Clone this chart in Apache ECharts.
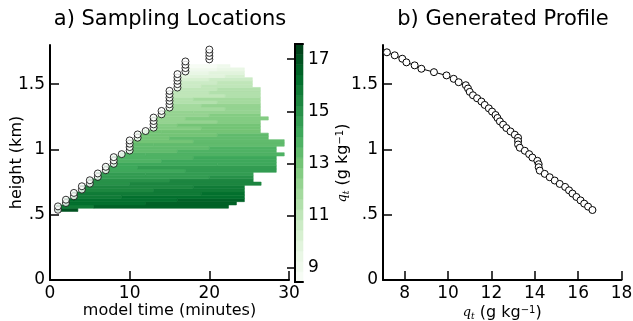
<!DOCTYPE html>
<html><head><meta charset="utf-8">
<script src="https://cdn.jsdelivr.net/npm/echarts@6/dist/echarts.min.js"></script>
<style>html,body{margin:0;padding:0;background:#fff}#c{width:633px;height:321px}</style>
</head><body><div id="c"></div>
<script>
const FONT = 'DejaVu Sans';

// ---- panel a: field rows (time-height), height of each row = 0.025 km
const rowBottom = [0.525,0.55,0.575,0.6,0.625,0.65,0.675,0.7,0.725,0.75,0.775,0.8,0.825,0.85,0.875,0.9,0.925,0.95,0.975,1.0,1.025,1.05,1.075,1.1,1.125,1.15,1.175,1.2,1.225,1.25,1.275,1.3,1.325,1.35,1.375,1.4,1.425,1.45,1.475,1.5,1.525,1.55,1.575,1.6,1.625];
const rowStart  = [0.8,0.8,1.8,1.8,2.8,2.8,3.8,3.8,4.8,4.8,5.8,5.8,6.8,6.8,7.8,7.8,7.8,8.8,9.8,9.8,9.8,9.8,10.8,10.8,11.8,12.8,12.8,12.8,12.8,13.8,13.8,14.8,14.8,14.8,14.8,14.8,14.8,15.8,15.8,15.8,15.8,15.8,16.8,16.8,16.8];
const rowBreak  = [3.5,5.5,12,16,9,19,13,18,10,15,20,12,17,11,21,14,18,12,16,20,13,18,15,21,14,19,16,21,17,20,18,22,19,21,18,22,20,21,19,21,20,22,20,21,21];
const rowEnd    = [3.5,22.4,23.4,24.4,24.4,24.4,24.4,24.4,26.5,25.5,25.5,25.5,28.4,28.4,28.4,28.4,28.4,29.4,28.4,28.4,29.4,29.4,27.4,27.4,26.4,26.4,26.4,26.4,27.4,26.4,26.4,26.4,26.4,26.4,26.4,26.4,26.4,26.4,25.4,25.4,25.4,24.4,24.4,24.4,22.6];
const rowLeftValue  = [16.9,15.9,16.3,16.1,15.9,15.75,15.55,15.4,15.15,14.9,14.7,14.45,14.25,14.15,14.05,13.95,13.85,13.7,13.55,13.35,13.25,13.2,13.15,13.05,12.9,12.7,12.55,12.4,12.3,12.2,12.05,11.9,11.7,11.55,11.35,11.15,11.0,10.9,10.8,10.5,10.25,9.95,9.4,8.9,8.5];
const rowRightValue = [16.9,16.7,16.6,16.4,16.2,16.05,15.9,15.7,15.45,15.25,15.0,14.8,14.55,14.45,14.35,14.25,14.15,14.0,13.85,13.65,13.55,13.5,13.45,13.35,13.2,13.05,12.9,12.75,12.65,12.55,12.4,12.25,12.05,11.9,11.75,11.55,11.4,11.3,11.2,10.9,10.65,10.35,9.8,9.3,8.9];
const rowHeight = 0.025;

// ---- panel a: sampling locations
const sampleTime   = [1,1,2,2,3,3,4,4,5,5,6,6,7,7,8,8,8,9,10,10,10,10,11,11,12,13,13,13,13,14,14,15,15,15,15,15,15,16,16,16,16,16,17,17,17,17,20,20,20,20];
const sampleHeight = [0.538,0.564,0.590,0.615,0.641,0.667,0.692,0.718,0.738,0.764,0.790,0.816,0.841,0.867,0.890,0.915,0.941,0.964,0.992,1.018,1.044,1.069,1.090,1.115,1.141,1.167,1.192,1.218,1.244,1.269,1.295,1.321,1.346,1.372,1.397,1.423,1.449,1.474,1.500,1.526,1.551,1.577,1.597,1.623,1.649,1.674,1.690,1.715,1.740,1.765];

// ---- panel b: generated profile
const profileQ = [7.18,7.54,7.89,8.08,8.46,8.77,9.35,9.93,10.26,10.49,10.82,10.92,11.00,11.15,11.34,11.54,11.69,11.88,12.03,12.19,12.28,12.39,12.54,12.69,12.88,13.08,13.23,13.23,13.23,13.31,13.54,13.74,13.89,14.12,14.18,14.18,14.23,14.46,14.69,14.92,15.15,15.40,15.58,15.74,15.92,16.11,16.28,16.46,16.66];
const profileZ = [1.744,1.721,1.695,1.667,1.644,1.618,1.592,1.567,1.541,1.515,1.492,1.467,1.441,1.415,1.392,1.367,1.341,1.315,1.290,1.264,1.241,1.215,1.190,1.164,1.138,1.113,1.090,1.064,1.038,1.013,0.990,0.964,0.938,0.913,0.887,0.864,0.838,0.813,0.787,0.762,0.736,0.713,0.687,0.662,0.636,0.610,0.585,0.562,0.536];

// ---- ticks / colour scale
const heightTicks = [0, 0.5, 1, 1.5];
const timeTicks = [0, 10, 20, 30];
const qTicks = [8, 10, 12, 14, 16, 18];
const cbTicks = [9, 11, 13, 15, 17];
const cbMin = 8.45, cbMax = 17.58, cbLevels = 23;
const greens = ['#f7fcf5','#e5f5e0','#c7e9c0','#a1d99b','#74c476','#41ab5d','#238b45','#006d2c','#00441b'];

// build field segments [t0, t1, z0, z1, value]
const fieldData = [];
for (let k = 0; k < rowBottom.length; k++) {
  const z0 = rowBottom[k], z1 = z0 + rowHeight;
  const b = rowBreak[k];
  if (b > rowStart[k] && b < rowEnd[k]) {
    fieldData.push([rowStart[k], b, z0, z1, rowLeftValue[k]]);
    fieldData.push([b, rowEnd[k], z0, z1, rowRightValue[k]]);
  } else {
    fieldData.push([rowStart[k], rowEnd[k], z0, z1, rowLeftValue[k]]);
  }
}
const sampleData = sampleTime.map((t, i) => [t, sampleHeight[i]]);
const profileData = profileQ.map((q, i) => [q, profileZ[i]]);
const cbData = [];
const cbStep = (cbMax - cbMin) / cbLevels;
for (let i = 0; i < cbLevels; i++) {
  const lo = cbMin + i * cbStep, hi = lo + cbStep;
  cbData.push([0, 1, lo, hi, (lo + hi) / 2]);
}

function rectItem(params, api) {
  const p0 = api.coord([api.value(0), api.value(3)]);
  const p1 = api.coord([api.value(1), api.value(2)]);
  const c = api.visual('color');
  return {
    type: 'rect',
    shape: { x: p0[0], y: p0[1], width: p1[0] - p0[0], height: p1[1] - p0[1] },
    style: { fill: c, stroke: c, lineWidth: 0.6 }
  };
}

const axisLine = { show: true, lineStyle: { color: '#000', width: 2 } };
const axisTick = { show: true, inside: true, length: 9, lineStyle: { color: '#000', width: 1.5 } };
const lbl = { color: '#000', fontSize: 17, fontFamily: FONT };
const nameStyle = { color: '#000', fontSize: 16, fontFamily: FONT };
const qName = '{i|q}{s|t} (g kg{p|\u22121})';
const qRich = {
  i: { fontFamily: 'DejaVu Serif', fontStyle: 'italic', fontSize: 13, color: '#000' },
  s: { fontFamily: 'DejaVu Serif', fontStyle: 'italic', fontSize: 9, color: '#000', verticalAlign: 'bottom' },
  p: { fontFamily: FONT, fontSize: 10, color: '#000', verticalAlign: 'top' }
};
const fmtH = v => String(v).replace(/^0\./, '.');

const chart = echarts.init(document.getElementById('c'), null, { renderer: 'canvas' });
chart.setOption({
  animation: false,
  backgroundColor: '#fff',
  title: [
    { text: 'a) Sampling Locations', left: 165, top: 4, textAlign: 'center',
      textStyle: { fontFamily: FONT, fontSize: 21, fontWeight: 'normal', color: '#000' } },
    { text: 'b) Generated Profile', left: 498, top: 4, textAlign: 'center',
      textStyle: { fontFamily: FONT, fontSize: 21, fontWeight: 'normal', color: '#000' } }
  ],
  grid: [
    { left: 50, top: 45, width: 239, height: 235, outerBoundsMode: 'none', containLabel: false },
    { left: 295, top: 44, width: 8, height: 238, outerBoundsMode: 'none', containLabel: false },
    { left: 383, top: 45, width: 238.5, height: 235, outerBoundsMode: 'none', containLabel: false }
  ],
  visualMap: {
    type: 'piecewise', show: false, min: cbMin, max: cbMax, splitNumber: cbLevels,
    dimension: 4, seriesIndex: [0, 2], inRange: { color: greens }
  },
  xAxis: [
    { gridIndex: 0, type: 'value', min: 0, max: 30, interval: 10, axisLine, axisTick,
      axisLabel: Object.assign({ margin: 5, customValues: timeTicks }, lbl), splitLine: { show: false },
      name: 'model time (minutes)', nameLocation: 'middle', nameGap: 23, nameMoveOverlap: false,
      nameTextStyle: nameStyle },
    { gridIndex: 1, type: 'value', min: 0, max: 1, position: 'bottom', z: 10,
      axisLine, axisTick: { show: false }, axisLabel: { show: false }, splitLine: { show: false } },
    { gridIndex: 1, type: 'value', min: 0, max: 1, position: 'top', z: 10,
      axisLine, axisTick: { show: false }, axisLabel: { show: false }, splitLine: { show: false } },
    { gridIndex: 2, type: 'value', min: 7, max: 18, axisLine,
      axisTick: Object.assign({ customValues: qTicks }, axisTick),
      axisLabel: Object.assign({ margin: 5, customValues: qTicks }, lbl), splitLine: { show: false },
      name: qName, nameLocation: 'middle', nameGap: 25, nameMoveOverlap: false,
      nameTextStyle: Object.assign({ rich: qRich }, nameStyle) }
  ],
  yAxis: [
    { gridIndex: 0, type: 'value', min: 0, max: 1.8, axisLine,
      axisTick: Object.assign({ customValues: heightTicks }, axisTick),
      axisLabel: Object.assign({ margin: 5, customValues: heightTicks, formatter: fmtH }, lbl),
      splitLine: { show: false },
      name: 'height (km)', nameLocation: 'middle', nameGap: 25, nameMoveOverlap: false,
      nameTextStyle: nameStyle },
    { gridIndex: 1, type: 'value', min: cbMin, max: cbMax, position: 'left', z: 10,
      axisLine, axisTick: { show: false }, axisLabel: { show: false }, splitLine: { show: false } },
    { gridIndex: 1, type: 'value', min: cbMin, max: cbMax, position: 'right', z: 10,
      axisLine, axisTick: Object.assign({ customValues: cbTicks }, axisTick, { length: 8 }),
      axisLabel: Object.assign({ margin: 5, customValues: cbTicks }, lbl), splitLine: { show: false },
      name: qName, nameLocation: 'middle', nameGap: 32, nameRotate: 90, nameMoveOverlap: false,
      nameTextStyle: Object.assign({ rich: qRich }, nameStyle) },
    { gridIndex: 2, type: 'value', min: 0, max: 1.8, axisLine,
      axisTick: Object.assign({ customValues: heightTicks }, axisTick),
      axisLabel: Object.assign({ margin: 5, customValues: heightTicks, formatter: fmtH }, lbl),
      splitLine: { show: false } }
  ],
  series: [
    { type: 'custom', xAxisIndex: 0, yAxisIndex: 0, data: fieldData, renderItem: rectItem,
      encode: { x: [0, 1], y: [2, 3] }, silent: true, z: 1 },
    { type: 'scatter', xAxisIndex: 0, yAxisIndex: 0, data: sampleData, symbol: 'circle', symbolSize: 7,
      itemStyle: { color: '#fff', borderColor: '#000', borderWidth: 1 }, silent: true, z: 3 },
    { type: 'custom', xAxisIndex: 1, yAxisIndex: 2, data: cbData, renderItem: rectItem,
      encode: { x: [0, 1], y: [2, 3] }, silent: true, z: 1 },
    { type: 'line', xAxisIndex: 3, yAxisIndex: 3, data: profileData, symbol: 'circle', symbolSize: 7,
      showAllSymbol: true, lineStyle: { color: '#000', width: 1 },
      itemStyle: { color: '#fff', borderColor: '#000', borderWidth: 1 }, silent: true }
  ]
});
</script></body></html>
